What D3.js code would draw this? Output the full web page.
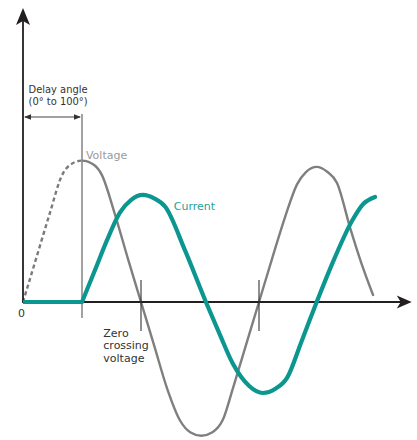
<!DOCTYPE html>
<html>
<head>
<meta charset="utf-8">
<script src="https://cdn.jsdelivr.net/npm/d3@7"></script>
<style>
  html, body { margin: 0; padding: 0; background: #ffffff; }
  svg { display: block; }
  text { font-family: "DejaVu Sans", sans-serif; font-size: 11px; }
  text.cond { font-family: "DejaVu Sans Condensed", "DejaVu Sans", sans-serif; }
</style>
</head>
<body>
<div id="chart"></div>
<script>
// ---- data (x in electrical degrees, y in normalised amplitude) ----
const voltDeg = [0, 20, 40, 60, 72, 90, 108, 120, 140, 160, 180, 200, 220, 240, 255, 272, 289, 305, 320, 340, 360, 380, 400, 418, 432, 448, 464, 479, 499, 516, 534];
const voltVal = [0, 0.31, 0.62, 0.91, 0.98, 1.01, 0.98, 0.91, 0.63, 0.31, 0, -0.31, -0.62, -0.85, -0.93, -0.955, -0.93, -0.84, -0.62, -0.31, 0, 0.31, 0.61, 0.84, 0.93, 0.965, 0.93, 0.85, 0.53, 0.28, 0.05];

const curDeg = [0, 90, 110, 128, 148, 165, 183, 200, 217, 247, 279, 300, 320, 345, 366, 385, 403, 425, 448, 475, 502, 519, 537];
const curVal = [0, 0, 0.23, 0.44, 0.64, 0.73, 0.765, 0.74, 0.68, 0.37, 0, -0.23, -0.44, -0.60, -0.65, -0.62, -0.54, -0.28, 0, 0.31, 0.58, 0.70, 0.75];

const delayAngle = 90;              // firing delay (degrees)
const zeroCrossings = [180, 360];   // voltage zero crossings marked
const xAxisEnd = 593;               // degrees at arrow tip
const yAxisTop = 2.1;               // amplitude at arrow tip

const labelDelay = ["Delay angle", "(0\u00b0 to 100\u00b0)"];
const labelVoltage = "Voltage";
const labelCurrent = "Current";
const labelZero = ["Zero", "crossing", "voltage"];
const labelOrigin = "0";

// ---- drawing ----
const W = 417, H = 440;
const svg = d3.select("#chart").append("svg").attr("width", W).attr("height", H);

const x = d3.scaleLinear().domain([0, 180]).range([23, 141]);
const y = d3.scaleLinear().domain([0, 1]).range([302, 162]);

const volt = voltDeg.map((d, i) => ({ d, v: voltVal[i] }));
const cur = curDeg.map((d, i) => ({ d, v: curVal[i] }));
const curOff = cur.filter(p => p.d <= delayAngle);
const curOn = cur.filter(p => p.d >= delayAngle);

const line = d3.line().x(p => x(p.d)).y(p => y(p.v)).curve(d3.curveMonotoneX);
const straight = d3.line().x(p => x(p.d)).y(p => y(p.v));

const defs = svg.append("defs");
defs.append("clipPath").attr("id", "before").append("rect")
  .attr("x", 0).attr("y", 0).attr("width", x(delayAngle)).attr("height", H);
defs.append("clipPath").attr("id", "after").append("rect")
  .attr("x", x(delayAngle)).attr("y", 0).attr("width", W - x(delayAngle)).attr("height", H);

const axisColor = "#231f20";

// delay vertical guide
svg.append("line")
  .attr("x1", x(delayAngle)).attr("x2", x(delayAngle))
  .attr("y1", y(1.343)).attr("y2", y(-0.114))
  .attr("stroke", "#707070").attr("stroke-width", 1.3);

// voltage dashed (before firing) and solid
svg.append("path").datum(volt).attr("d", line)
  .attr("clip-path", "url(#before)")
  .attr("fill", "none").attr("stroke", "#7a7a7a").attr("stroke-width", 2.4)
  .attr("stroke-dasharray", "4,3");
svg.append("path").datum(volt).attr("d", line)
  .attr("clip-path", "url(#after)")
  .attr("fill", "none").attr("stroke", "#7f7f7f").attr("stroke-width", 2.4)
  .attr("stroke-linecap", "round");

// axes
svg.append("line")
  .attr("x1", x(0)).attr("x2", x(xAxisEnd) - 8)
  .attr("y1", y(0)).attr("y2", y(0))
  .attr("stroke", axisColor).attr("stroke-width", 1.8);
svg.append("line")
  .attr("x1", x(0)).attr("x2", x(0))
  .attr("y1", y(0) + 1).attr("y2", y(yAxisTop) + 8)
  .attr("stroke", axisColor).attr("stroke-width", 1.8);
// arrow heads
const xt = x(xAxisEnd), yt = y(0);
svg.append("path")
  .attr("d", `M${xt},${yt} L${xt - 15},${yt - 6.5} L${xt - 11},${yt} L${xt - 15},${yt + 6.5} Z`)
  .attr("fill", axisColor);
const ax = x(0), ay = y(yAxisTop);
svg.append("path")
  .attr("d", `M${ax},${ay} L${ax + 7},${ay + 17} L${ax},${ay + 13} L${ax - 7},${ay + 17} Z`)
  .attr("fill", axisColor);

// zero crossing markers
svg.selectAll("line.zc").data(zeroCrossings).enter().append("line")
  .attr("class", "zc")
  .attr("x1", d => x(d)).attr("x2", d => x(d))
  .attr("y1", y(0.157)).attr("y2", y(-0.207))
  .attr("stroke", "#333333").attr("stroke-width", 1.1);

// current: off interval (flat) then conducting
const curColor = "#0c9690";
svg.append("path").datum(curOff).attr("d", straight)
  .attr("fill", "none").attr("stroke", curColor).attr("stroke-width", 4.2)
  .attr("stroke-linecap", "butt");
svg.append("path").datum(curOn).attr("d", line)
  .attr("fill", "none").attr("stroke", curColor).attr("stroke-width", 4.2)
  .attr("stroke-linecap", "round").attr("stroke-linejoin", "round");

// delay double arrow
const dy = y(1.321);
svg.append("line")
  .attr("x1", x(0) + 2).attr("x2", x(delayAngle) - 2)
  .attr("y1", dy).attr("y2", dy)
  .attr("stroke", "#444").attr("stroke-width", 1.1);
svg.append("path")
  .attr("d", `M${x(0) + 1},${dy} L${x(0) + 8},${dy - 2.8} L${x(0) + 8},${dy + 2.8} Z`)
  .attr("fill", "#333");
svg.append("path")
  .attr("d", `M${x(delayAngle) - 1},${dy} L${x(delayAngle) - 8},${dy - 2.8} L${x(delayAngle) - 8},${dy + 2.8} Z`)
  .attr("fill", "#333");

// labels
svg.append("text").attr("class", "cond").attr("x", x(8.5)).attr("y", y(1.495)).attr("fill", "#333").text(labelDelay[0]);
svg.append("text").attr("class", "cond").attr("x", x(8.5)).attr("y", y(1.404)).attr("fill", "#333").text(labelDelay[1]);
svg.append("text").attr("x", x(96)).attr("y", y(1.021)).attr("fill", "#9a9a9a").text(labelVoltage);
svg.append("text").attr("x", x(230)).attr("y", y(0.657)).attr("fill", "#22a29c").text(labelCurrent);
const zy = [-0.25, -0.339, -0.427];
labelZero.forEach((t, i) => {
  svg.append("text").attr("x", x(122.5)).attr("y", y(zy[i])).attr("fill", "#333").text(t);
});
svg.append("text").attr("x", x(-2.2)).attr("y", y(-0.104)).attr("text-anchor", "middle")
  .attr("fill", "#333").text(labelOrigin);
</script>
</body>
</html>
